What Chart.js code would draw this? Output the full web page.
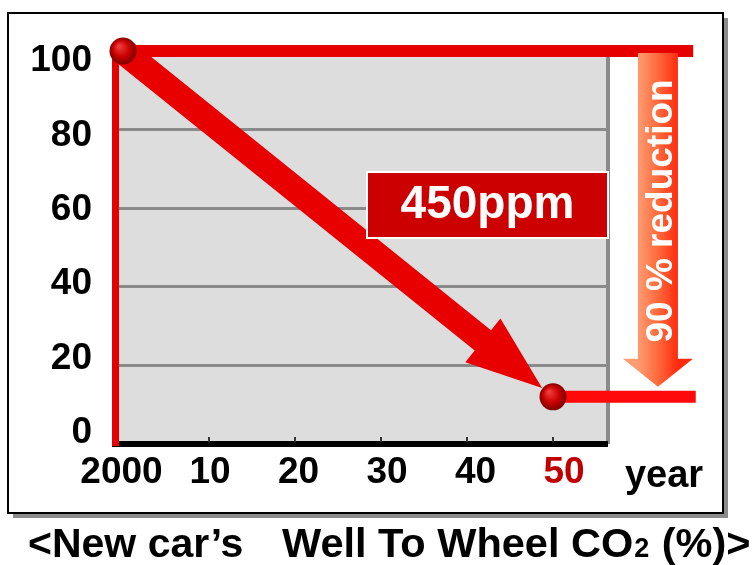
<!DOCTYPE html>
<html><head><meta charset="utf-8">
<script src="https://cdn.jsdelivr.net/npm/chart.js@4.4.1/dist/chart.umd.min.js"></script>
<style>html,body{margin:0;padding:0;background:#fff;}canvas{display:block;}</style>
</head><body>
<canvas id="c" width="755" height="565"></canvas>
<script>
// ---- data ----
const years = [0, 50];                 // 2000 and 2050 (years after 2000)
const co2Percent = [100, 12];          // new car's well-to-wheel CO2 (% of 2000)
const baselineYears = [-1.3, 66.3];    // extent of the 100 % level line
const baselineLevel = [100, 100];
const targetYears = [50, 66.6];        // extent of the 2050 target level line
const targetLevel = [12, 12];
const xTickValues = [0, 10, 20, 30, 40, 50];
const xTickLabels = ['2000', '10', '20', '30', '40', '50'];
const yTickValues = [0, 20, 40, 60, 80, 100];
const xAxisUnit = 'year';
const concentrationLabel = '450ppm';
const reductionLabel = '90 % reduction';
const captionParts = ['<New car\u2019s', 'Well To Wheel CO', '2', ' (%)>'];

const FONT = '"Liberation Sans", Arial, Helvetica, sans-serif';
Chart.defaults.font.family = FONT;

function dotFill(c) {
  const ch = c.chart, xs = ch.scales.x, ys = ch.scales.y;
  if (!c.raw || !xs || !ys) return '#C00000';
  const px = xs.getPixelForValue(c.raw.x), py = ys.getPixelForValue(c.raw.y);
  if (!isFinite(px) || !isFinite(py)) return '#C00000';
  const g = ch.ctx.createRadialGradient(px - 4, py - 5, 1, px, py, 14);
  g.addColorStop(0, '#F23A3A');
  g.addColorStop(0.55, '#C80000');
  g.addColorStop(1, '#7A0000');
  return g;
}

const decor = {
  id: 'decor',
  beforeDraw(chart) {
    const { ctx, chartArea: a } = chart;
    ctx.save();
    ctx.fillStyle = '#fff'; ctx.fillRect(0, 0, chart.width, chart.height);
    ctx.fillStyle = '#8c8c8c'; ctx.fillRect(13, 18, 715, 500);
    ctx.fillStyle = '#fff'; ctx.fillRect(8, 13, 715, 500);
    ctx.strokeStyle = '#000'; ctx.lineWidth = 2; ctx.strokeRect(8, 13, 715, 500);
    ctx.fillStyle = '#DDDDDD'; ctx.fillRect(a.left + 3, a.top + 2, a.right - a.left - 3, a.bottom - a.top - 2);
    ctx.fillStyle = '#8a8a8a'; ctx.fillRect(a.right - 1, a.top + 2, 4, a.bottom - a.top - 2);
    ctx.restore();
  },
  beforeDatasetsDraw(chart) {
    const ctx = chart.ctx;
    const meta = chart.getDatasetMeta(0);
    const p0 = meta.data[0], p1 = meta.data[1];
    if (!p0 || !p1) return;
    const dx = p1.x - p0.x, dy = p1.y - p0.y, len = Math.hypot(dx, dy);
    const ux = dx / len, uy = dy / len, nx = -uy, ny = ux;
    const tipX = p1.x - ux * 14, tipY = p1.y - uy * 14;
    const headLen = 76, headHalf = 28, shaftHalf = 13;
    const bx = tipX - ux * headLen, by = tipY - uy * headLen;
    ctx.save();
    ctx.fillStyle = '#E80000';
    ctx.beginPath();
    ctx.moveTo(p0.x + nx * shaftHalf, p0.y + ny * shaftHalf);
    ctx.lineTo(bx + nx * shaftHalf, by + ny * shaftHalf);
    ctx.lineTo(bx + nx * headHalf, by + ny * headHalf);
    ctx.lineTo(tipX, tipY);
    ctx.lineTo(bx - nx * headHalf, by - ny * headHalf);
    ctx.lineTo(bx - nx * shaftHalf, by - ny * shaftHalf);
    ctx.lineTo(p0.x - nx * shaftHalf, p0.y - ny * shaftHalf);
    ctx.closePath();
    ctx.fill();
    // small tick marks on the time axis
    const xs = chart.scales.x, a = chart.chartArea;
    ctx.fillStyle = '#333';
    xTickValues.slice(1).forEach(v => {
      const px = Math.round(xs.getPixelForValue(v));
      ctx.fillRect(px - 1, a.bottom - 7, 2, 5);
    });
    ctx.restore();
  },
  afterDatasetsDraw(chart) {
    const { ctx, chartArea: a } = chart;
    const xs = chart.scales.x, ys = chart.scales.y;
    // orange reduction arrow
    const cx = xs.getPixelForValue(62.2);
    const top = ys.getPixelForValue(baselineLevel[0]) + 2;
    const tip = ys.getPixelForValue(targetLevel[0]) - 10;
    const sh = 20, hh = 35, hl = 28;
    ctx.save();
    const g = ctx.createLinearGradient(cx - sh, 0, cx + sh, 0);
    g.addColorStop(0, '#FF9C72');
    g.addColorStop(0.5, '#FF6A3C');
    g.addColorStop(1, '#FF2A0E');
    ctx.fillStyle = g;
    ctx.beginPath();
    ctx.moveTo(cx - sh, top); ctx.lineTo(cx + sh, top);
    ctx.lineTo(cx + sh, tip - hl); ctx.lineTo(cx + hh, tip - hl);
    ctx.lineTo(cx, tip);
    ctx.lineTo(cx - hh, tip - hl); ctx.lineTo(cx - sh, tip - hl);
    ctx.closePath(); ctx.fill();
    ctx.translate(cx + 4, (top + tip - hl) / 2 + 5);
    ctx.rotate(-Math.PI / 2);
    ctx.fillStyle = '#fff';
    ctx.font = 'bold 37px ' + FONT;
    ctx.textAlign = 'center'; ctx.textBaseline = 'middle';
    ctx.fillText(reductionLabel, 0, 0);
    ctx.restore();
    // 450ppm box
    const bw = 241, bh = 66, bxl = a.right - 240, byt = 172;
    ctx.save();
    ctx.fillStyle = '#CC0000'; ctx.fillRect(bxl, byt, bw, bh);
    ctx.strokeStyle = '#fff'; ctx.lineWidth = 2; ctx.strokeRect(bxl, byt, bw, bh);
    ctx.fillStyle = '#fff';
    ctx.font = 'bold 46px ' + FONT;
    ctx.textAlign = 'center'; ctx.textBaseline = 'middle';
    ctx.fillText(concentrationLabel, bxl + bw / 2, byt + bh / 2);
    ctx.restore();
  },
  afterDraw(chart) {
    const ctx = chart.ctx;
    ctx.save();
    ctx.fillStyle = '#000';
    ctx.font = 'bold 38px ' + FONT;
    ctx.textAlign = 'center'; ctx.textBaseline = 'alphabetic';
    ctx.fillText(xAxisUnit, 664, 487);
    // caption
    ctx.textAlign = 'left';
    const base = 557;
    ctx.font = 'bold 41px ' + FONT;
    ctx.fillText(captionParts[0], 28, base);
    let x = 282;
    ctx.font = 'bold 41.5px ' + FONT;
    ctx.fillText(captionParts[1], x, base); x += ctx.measureText(captionParts[1]).width + 1;
    ctx.font = 'bold 27px ' + FONT;
    ctx.fillText(captionParts[2], x, base); x += ctx.measureText(captionParts[2]).width + 1;
    ctx.font = 'bold 41.5px ' + FONT;
    ctx.fillText(captionParts[3], x, base);
    ctx.restore();
  }
};

new Chart(document.getElementById('c'), {
  type: 'line',
  data: {
    datasets: [
      { label: 'CO2', data: years.map((x, i) => ({ x, y: co2Percent[i] })), showLine: false,
        pointRadius: 13.5, pointHoverRadius: 13.5, pointBorderWidth: 0,
        pointBackgroundColor: dotFill, clip: false },
      { label: '2000 level', data: baselineYears.map((x, i) => ({ x, y: baselineLevel[i] })),
        borderColor: '#E60000', borderWidth: 12, pointRadius: 0, clip: false, borderCapStyle: 'butt' },
      { label: 'target level', data: targetYears.map((x, i) => ({ x, y: targetLevel[i] })),
        borderColor: '#FF0A0A', borderWidth: 12, pointRadius: 0, clip: false, borderCapStyle: 'butt' }
    ]
  },
  options: {
    responsive: false, animation: false, events: [],
    layout: { padding: { top: 51, left: 0, right: 148, bottom: 51 } },
    plugins: { legend: { display: false }, tooltip: { enabled: false }, title: { display: false } },
    scales: {
      x: { type: 'linear', position: 'bottom', min: -0.93, max: 56.28, weight: 0,
           grid: { display: false, drawTicks: false },
           border: { display: true, color: '#000', width: 6 },
           ticks: { display: false }, afterFit: s => { s.height = 0; } },
      xl: { type: 'linear', position: 'bottom', min: -0.734, max: 54.86, weight: 1,
            grid: { display: false, drawTicks: false }, border: { display: false },
            ticks: { padding: 7, font: { size: 37, weight: 'bold' }, maxRotation: 0, autoSkip: false,
                     color: c => (c.tick && c.tick.value === 50) ? '#C00000' : '#000',
                     callback: (v, i) => xTickLabels[i] },
            afterBuildTicks: s => { s.ticks = xTickValues.map(v => ({ value: v })); },
            afterFit: s => { s.height = 70; } },
      y: { type: 'linear', position: 'left', min: 0, max: 100, weight: 0,
           grid: { color: c => (c.tick && (c.tick.value === 0 || c.tick.value === 100)) ? 'rgba(0,0,0,0)' : '#8a8a8a',
                   lineWidth: 3, drawTicks: false },
           border: { display: true, color: '#E60000', width: 7 },
           ticks: { display: false, stepSize: 20 }, afterFit: s => { s.width = 0; } },
      yl: { type: 'linear', position: 'left', min: -3.07, max: 102.72, weight: 1,
            grid: { display: false, drawTicks: false }, border: { display: false },
            ticks: { padding: 23, font: { size: 37, weight: 'bold' }, color: '#000',
                     callback: (v, i) => String(yTickValues[i]) },
            afterBuildTicks: s => { s.ticks = yTickValues.map(v => ({ value: v })); },
            afterFit: s => { s.width = 115; } }
    }
  },
  plugins: [decor]
});
</script>
</body></html>
